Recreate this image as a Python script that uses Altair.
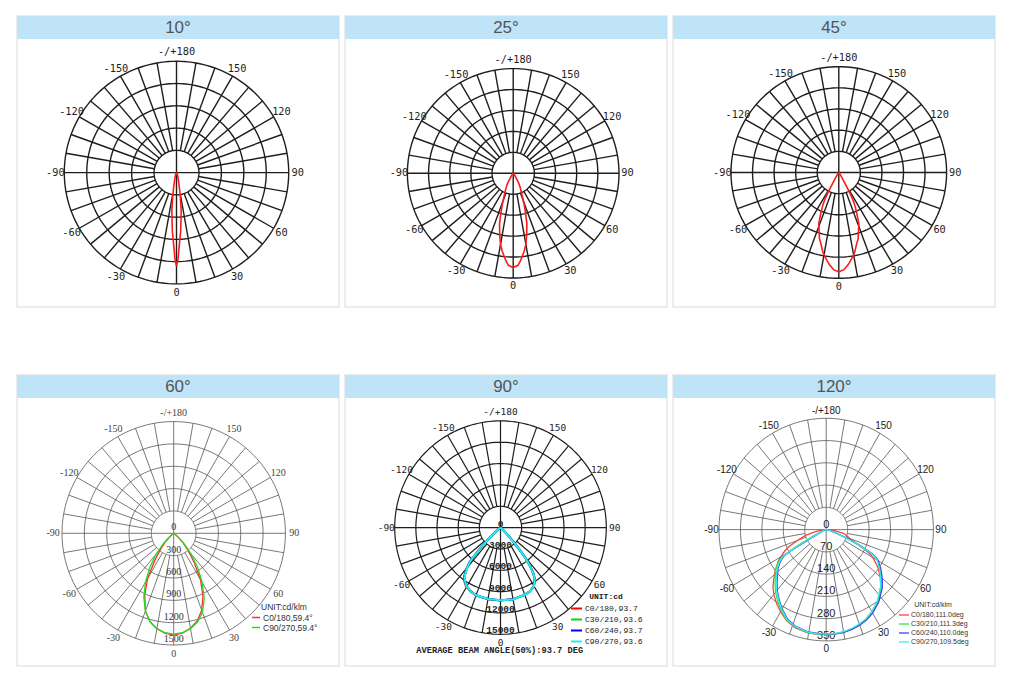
import altair as alt
import pandas as pd

PANEL_W, PANEL_H = 322, 291

TITLES = ["10°", "25°", "45°", "60°", "90°", "120°"]
TICK_ANGLES = [180, 150, 120, 90, 60, 30, 0, -30, -60, -90, -120, -150]
TICK_LABELS = ["-/+180", "150", "120", "90", "60", "30", "0", "-30", "-60", "-90", "-120", "-150"]
RING_FRACTIONS = [0.2, 0.4, 0.6, 0.8, 1.0]
SPOKE_ANGLES = list(range(-170, 190, 10))
CIRCLE_STEPS = list(range(0, 362, 2))

# ---- 10 deg (percent of outer ring) ----
P1_GAMMA = [-40, -30, -25, -20, -17, -14, -12, -10, -9, -8, -7, -6, -5, -4, -3, -2, -1, 0,
            1, 2, 3, 4, 5, 6, 7, 8, 9, 10, 12, 14, 17, 20, 25, 30, 40]
P1_VALUE = [0, 0.5, 1.5, 3, 4.7, 7, 10, 17, 21, 26, 34, 39, 45, 53, 59, 67, 78, 84,
            78, 67, 59, 53, 45, 39, 34, 26, 21, 17, 10, 7, 4.7, 3, 1.5, 0.5, 0]

# ---- 25 deg ----
P2_GAMMA = [-60, -50, -40, -35, -31, -29, -27, -24, -21, -19, -17, -15, -12, -10, -8, -5, -3, 0,
            3, 5, 8, 10, 12, 15, 17, 19, 21, 24, 27, 29, 31, 35, 40, 50, 60]
P2_VALUE = [0, 0.5, 1.5, 3, 6, 11, 14, 18, 25, 32, 40, 50, 61, 69, 75, 83, 88, 90,
            88, 83, 75, 69, 61, 50, 40, 32, 25, 18, 14, 11, 6, 3, 1.5, 0.5, 0]

# ---- 45 deg ----
P3_GAMMA = [-60, -45, -35, -32, -30, -29, -28, -27, -26, -24, -21, -18, -16, -14, -11, -9, -6, -3, 0,
            3, 6, 9, 11, 14, 16, 18, 21, 24, 26, 27, 28, 29, 30, 32, 35, 45, 60]
P3_VALUE = [0, 0.5, 2, 4, 8, 13, 20, 28, 33, 40, 52, 59, 65, 69, 77, 81, 87, 92, 94,
            92, 87, 81, 77, 69, 65, 59, 52, 40, 33, 28, 20, 13, 8, 4, 2, 0.5, 0]

# ---- 60 deg (cd/klm) ----
P4_SERIES = ["C0/180,59.4°", "C90/270,59.4°"]
P4_COLORS = ["#ff3030", "#22dd22"]
P4_RADIAL = [0, 300, 600, 900, 1200, 1500]
P4_GAMMA = [-60, -55, -50, -45, -40, -35, -30, -25, -20, -15, -10, -5, 0,
            5, 10, 15, 20, 25, 30, 35, 40, 45, 50, 55, 60]
P4_C0 = [0, 15, 50, 150, 260, 440, 700, 920, 1110, 1230, 1300, 1345, 1368,
         1345, 1295, 1220, 1100, 930, 720, 480, 300, 170, 60, 20, 0]
P4_C90 = [0, 30, 80, 200, 370, 560, 760, 950, 1110, 1230, 1300, 1340, 1355,
          1340, 1300, 1235, 1130, 970, 770, 560, 360, 200, 80, 25, 0]

# ---- 90 deg (cd) ----
P5_SERIES = ["C0/180,93.7", "C30/210,93.6", "C60/240,93.7", "C90/270,93.6"]
P5_COLORS = ["#ff0000", "#00dd00", "#0000ff", "#22eeee"]
P5_RADIAL = [0, 3000, 6000, 9000, 12000, 15000]
P5_GAMMA = [-60, -55, -50, -48, -46, -45, -44, -43, -42, -40, -37, -34, -31, -25, -20, -10, 0,
            10, 20, 25, 30, 34, 36, 38, 40, 42, 44, 46, 50, 55, 60]
P5_C0 = [0, 160, 650, 1400, 2600, 3600, 4600, 5600, 6600, 7450, 8550, 9150, 9550, 9950, 10150, 10220, 10250,
         10240, 10030, 9870, 9450, 8650, 7850, 6650, 5250, 3250, 1750, 880, 300, 80, 0]
P5_C30 = [0, 155, 640, 1380, 2580, 3580, 4580, 5580, 6580, 7400, 8500, 9100, 9500, 9920, 10140, 10210, 10240,
          10230, 10040, 9880, 9470, 8680, 7880, 6680, 5280, 3280, 1780, 890, 300, 80, 0]
P5_C60 = [0, 150, 610, 1320, 2520, 3520, 4520, 5520, 6520, 7330, 8420, 9030, 9460, 9900, 10120, 10190, 10220,
          10240, 10060, 9910, 9510, 8720, 7920, 6720, 5320, 3320, 1820, 910, 310, 80, 0]
P5_C90 = [0, 150, 600, 1300, 2500, 3500, 4500, 5500, 6500, 7300, 8400, 9000, 9450, 9900, 10130, 10200, 10230,
          10250, 10050, 9900, 9500, 8700, 7900, 6700, 5300, 3300, 1800, 900, 300, 80, 0]

# ---- 120 deg (cd/klm) ----
P6_SERIES = ["C0/180,111.0deg", "C30/210,111.3deg", "C60/240,110.0deg", "C90/270,109.5deg"]
P6_COLORS = ["#ff4040", "#33e833", "#4040ff", "#33eeee"]
P6_RADIAL = [0, 70, 140, 210, 280, 350]
P6_GAMMA = [-90, -85, -80, -75, -70, -66, -64, -62, -61, -60,
            -59, -57, -55, -52, -48, -44, -40, -35, -30, -24,
            -18, -11, -5, 0, 5, 10, 15, 20, 25, 30,
            37, 45, 50, 55, 60, 62, 63, 64, 66, 68,
            70, 74, 78, 84, 90]
P6_C0 = [0, 15, 35, 70, 100, 135, 148, 160, 165, 172,
         178, 188, 196, 212, 230, 250, 266, 283, 298, 315,
         325, 330, 331, 330, 330, 328, 324, 318, 309, 298,
         282, 252, 230, 206, 176, 161, 148, 135, 109, 95,
         83, 70, 58, 25, 0]
P6_C30 = [0, 2, 5, 10, 18, 30, 50, 90, 120, 150,
          170, 184, 196, 210, 224, 240, 257, 276, 294, 313,
          323, 329, 330, 329, 329, 327, 323, 317, 310, 300,
          281, 255, 235, 214, 194, 180, 168, 150, 112, 72,
          45, 22, 10, 4, 0]
P6_C60 = [0, 1, 3, 6, 10, 16, 22, 50, 90, 130,
          160, 174, 186, 200, 214, 231, 249, 268, 288, 309,
          320, 327, 328, 328, 329, 328, 325, 320, 313, 303,
          285, 259, 239, 218, 197, 182, 170, 152, 112, 70,
          42, 20, 9, 3, 0]
P6_C90 = [0, 1, 3, 6, 10, 18, 25, 60, 100, 140,
          165, 178, 190, 204, 218, 235, 252, 271, 290, 311,
          321, 328, 329, 328, 328, 326, 322, 316, 309, 298,
          278, 252, 232, 212, 192, 178, 165, 145, 105, 65,
          40, 20, 10, 4, 0]

BAR_COLOR = "#bfe4f8"


def long_table(series, gamma, values):
    rows = []
    for s, vals in zip(series, values):
        for g, v in zip(gamma, vals):
            rows.append({"series": s, "gamma": g, "value": v})
    return pd.DataFrame(rows)


def panel(title, geo, style, curves, maxv, radial=None, legend=None, extra=None):
    cx, cy, rx, ry = geo
    xs = alt.Scale(domain=[-cx / rx, (PANEL_W - cx) / rx], nice=False, zero=False)
    ys = alt.Scale(domain=[-(PANEL_H - cy) / ry, cy / ry], nice=False, zero=False)
    X = lambda f: alt.X(f, scale=xs, axis=None)
    Y = lambda f: alt.Y(f, scale=ys, axis=None)

    tdf = pd.DataFrame({"t": [title]})
    bar = alt.Chart(tdf).mark_rect(color=BAR_COLOR).encode(
        x=alt.value(0), x2=alt.value(PANEL_W), y=alt.value(0), y2=alt.value(23))
    ttxt = alt.Chart(tdf).mark_text(font="Liberation Sans", fontSize=17, color="#555555",
                                    baseline="middle").encode(
        x=alt.value(PANEL_W / 2), y=alt.value(12), text="t:N")

    ring_df = pd.DataFrame([(r, a) for r in RING_FRACTIONS for a in CIRCLE_STEPS], columns=["r", "a"])
    rings = alt.Chart(ring_df).transform_calculate(
        x="datum.r*sin(datum.a*PI/180)", y="-datum.r*cos(datum.a*PI/180)"
    ).mark_line(color=style["grid"], strokeWidth=style["gw"]).encode(
        x=X("x:Q"), y=Y("y:Q"), detail="r:N", order="a:Q")

    spokes = alt.Chart(pd.DataFrame({"a": SPOKE_ANGLES})).transform_calculate(
        r0="(datum.a % 90 == 0) ? 0 : 0.2",
        x="datum.r0*sin(datum.a*PI/180)", y="-datum.r0*cos(datum.a*PI/180)",
        x2="sin(datum.a*PI/180)", y2="-cos(datum.a*PI/180)"
    ).mark_rule(color=style["grid"], strokeWidth=style["gw"]).encode(
        x=X("x:Q"), y=Y("y:Q"), x2="x2:Q", y2="y2:Q")

    lr = style["lr"]
    ticks = alt.Chart(pd.DataFrame({"a": TICK_ANGLES, "label": TICK_LABELS})).transform_calculate(
        x=f"{lr}*sin(datum.a*PI/180)", y=f"-{lr}*cos(datum.a*PI/180)"
    ).mark_text(font=style["font"], fontSize=style["fs"], color=style["tc"], baseline="middle").encode(
        x=X("x:Q"), y=Y("y:Q"), text="label:N")

    layers = [bar, ttxt, rings, spokes, ticks]

    if radial is not None:
        rdf = pd.DataFrame({"v": radial, "label": [str(v) for v in radial]})
        layers.append(alt.Chart(rdf).transform_calculate(
            x="0", y=f"-datum.v/{maxv}"
        ).mark_text(font=style["rfont"], fontSize=style["rfs"], fontWeight=style["rfw"], color=style["rc"],
                    baseline="middle", dy=style["rdy"]).encode(
            x=X("x:Q"), y=Y("y:Q"), text="label:N"))

    cchart = alt.Chart(curves).transform_calculate(
        x=f"datum.value/{maxv}*sin(datum.gamma*PI/180)",
        y=f"-datum.value/{maxv}*cos(datum.gamma*PI/180)"
    ).mark_line(strokeWidth=style["cw"])
    if legend is None:
        cchart = cchart.encode(x=X("x:Q"), y=Y("y:Q"), order="gamma:Q", color=alt.value("#ff1a1a"))
    else:
        names, colors, leg = legend
        cchart = cchart.encode(
            x=X("x:Q"), y=Y("y:Q"), order="gamma:Q",
            color=alt.Color("series:N", scale=alt.Scale(domain=names, range=colors), legend=leg))
    layers.append(cchart)

    if extra is not None:
        layers.append(extra)

    return alt.layer(*layers).properties(width=PANEL_W, height=PANEL_H)


mono_style = dict(grid="#1e1e1e", gw=1.4, lr=1.08, font="DejaVu Sans Mono", fs=10.3, tc="#1e1e1e", cw=1.6)

p1 = panel(TITLES[0], (159.5, 156.6, 112.2, 111.3), mono_style,
           long_table(["a"], P1_GAMMA, [P1_VALUE]), 100)
p2 = panel(TITLES[1], (168.2, 157.3, 105.8, 104.7), mono_style,
           long_table(["a"], P2_GAMMA, [P2_VALUE]), 100)
p3 = panel(TITLES[2], (165.8, 156.5, 107.8, 105.8), mono_style,
           long_table(["a"], P3_GAMMA, [P3_VALUE]), 100)

p4_style = dict(grid="#555555", gw=0.8, lr=1.08, font="Liberation Serif", fs=10, tc="#444444", cw=1.3,
                rfont="Liberation Serif", rfs=10, rfw="normal", rc="#333333", rdy=-6)
p4_leg = alt.Legend(title="UNIT:cd/klm", orient="none", legendX=234, legendY=228,
                    symbolType="stroke", symbolSize=64, symbolStrokeWidth=1.5,
                    labelFont="Liberation Sans", labelFontSize=8.5, labelColor="#333333",
                    titleFont="Liberation Sans", titleFontSize=8.5, titleFontWeight="normal",
                    titleColor="#333333", titleAnchor="middle", titlePadding=1,
                    rowPadding=-1, labelOffset=2, padding=0)
p4 = panel(TITLES[3], (156.7, 158.3, 111.7, 111.7), p4_style,
           long_table(P4_SERIES, P4_GAMMA, [P4_C0, P4_C90]), 1500, radial=P4_RADIAL,
           legend=(P4_SERIES, P4_COLORS, p4_leg))

p5_style = dict(grid="#1e1e1e", gw=1.2, lr=1.08, font="DejaVu Sans Mono", fs=9.5, tc="#1e1e1e", cw=2,
                rfont="Liberation Mono", rfs=9.5, rfw="bold", rc="#222222", rdy=-4)
p5_leg = alt.Legend(title="UNIT:cd", orient="none", legendX=225, legendY=218,
                    symbolType="stroke", symbolSize=121, symbolStrokeWidth=2,
                    labelFont="Liberation Mono", labelFontSize=8, labelColor="#222222",
                    titleFont="Liberation Mono", titleFontSize=8, titleFontWeight="bold",
                    titleColor="#222222", titleAnchor="middle", titlePadding=1,
                    rowPadding=-4, labelOffset=2, padding=0)
AVG_TEXT = ["AVERAGE BEAM ANGLE(50%):93.7 DEG"]
p5_extra = alt.Chart(pd.DataFrame({"t": AVG_TEXT})).mark_text(
    font="Liberation Mono", fontSize=8.7, fontWeight="bold", color="#222222", baseline="middle").encode(
    x=alt.value(154.7), y=alt.value(275), text="t:N")
p5 = panel(TITLES[4], (155.5, 152.6, 105.8, 106.7), p5_style,
           long_table(P5_SERIES, P5_GAMMA, [P5_C0, P5_C30, P5_C60, P5_C90]), 15000, radial=P5_RADIAL,
           legend=(P5_SERIES, P5_COLORS, p5_leg), extra=p5_extra)

p6_style = dict(grid="#555555", gw=0.8, lr=1.07, font="Liberation Sans", fs=10, tc="#222222", cw=1.3,
                rfont="Liberation Sans", rfs=11, rfw="normal", rc="#222222", rdy=-5)
p6_leg = alt.Legend(title="UNIT:cd/klm", orient="none", legendX=225, legendY=226,
                    symbolType="stroke", symbolSize=100, symbolStrokeWidth=1.3,
                    labelFont="Liberation Sans", labelFontSize=7, labelColor="#333333",
                    titleFont="Liberation Sans", titleFontSize=7, titleFontWeight="normal",
                    titleColor="#333333", titleAnchor="middle", titlePadding=1,
                    rowPadding=-2, labelOffset=1, padding=0)
p6 = panel(TITLES[5], (153.2, 154.6, 107.2, 111.3), p6_style,
           long_table(P6_SERIES, P6_GAMMA, [P6_C0, P6_C30, P6_C60, P6_C90]), 350, radial=P6_RADIAL,
           legend=(P6_SERIES, P6_COLORS, p6_leg))

top = alt.hconcat(p1, p2, p3, spacing=4)
bottom = alt.hconcat(p4, p5, p6, spacing=4).resolve_scale(color="independent")
chart = alt.vconcat(top, bottom, spacing=66).resolve_scale(color="independent").properties(
    padding={"left": 8, "top": 7, "right": 0, "bottom": 0}
).configure_view(stroke="#e6e6e6", strokeWidth=1.5)

chart.save("out.html", embed_options={"renderer": "svg", "actions": False})
